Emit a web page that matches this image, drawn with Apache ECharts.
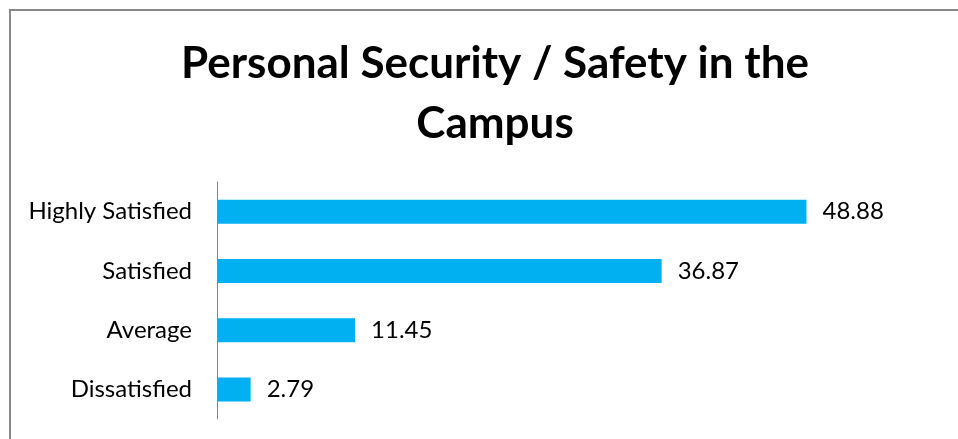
<!DOCTYPE html>
<html>
<head>
<meta charset="utf-8">
<script src="https://cdn.jsdelivr.net/npm/echarts@6/dist/echarts.min.js"></script>
<style>
  html, body { margin: 0; padding: 0; background: #fff; }
  #chart { width: 958px; height: 439px; }
</style>
</head>
<body>
<div id="chart"></div>
<script>
// satisfaction levels, top to bottom
const categories = ['Highly Satisfied', 'Satisfied', 'Average', 'Dissatisfied'];
const percentages = [48.88, 36.87, 11.45, 2.79];

const chart = echarts.init(document.getElementById('chart'));

chart.setOption({
  backgroundColor: '#fff',
  animation: false,
  title: {
    text: 'Personal Security / Safety in the\nCampus',
    left: 490,
    top: 29,
    textAlign: 'center',
    textStyle: {
      fontFamily: 'Lato',
      fontWeight: 'bold',
      fontSize: 44,
      lineHeight: 60,
      color: '#000'
    }
  },
  graphic: [{
    type: 'rect',
    shape: { x: 10, y: 10, width: 1000, height: 500 },
    style: { fill: 'none', stroke: '#898989', lineWidth: 2 },
    silent: true
  }],
  grid: {
    left: 217,
    top: 182,
    bottom: 20,
    width: 723.6
  },
  xAxis: {
    type: 'value',
    min: 0,
    max: 60,
    show: false
  },
  yAxis: {
    type: 'category',
    data: categories,
    inverse: true,
    axisLine: { lineStyle: { color: '#868686', width: 1 } },
    axisTick: { show: false },
    axisLabel: {
      margin: 25,
      fontFamily: 'Lato',
      fontSize: 24,
      color: '#000'
    }
  },
  series: [{
    type: 'bar',
    data: percentages,
    barWidth: 24,
    itemStyle: { color: '#00B0F0' },
    label: {
      show: true,
      position: 'right',
      distance: 16,
      fontFamily: 'Lato',
      fontSize: 24,
      color: '#000'
    }
  }]
});
</script>
</body>
</html>
